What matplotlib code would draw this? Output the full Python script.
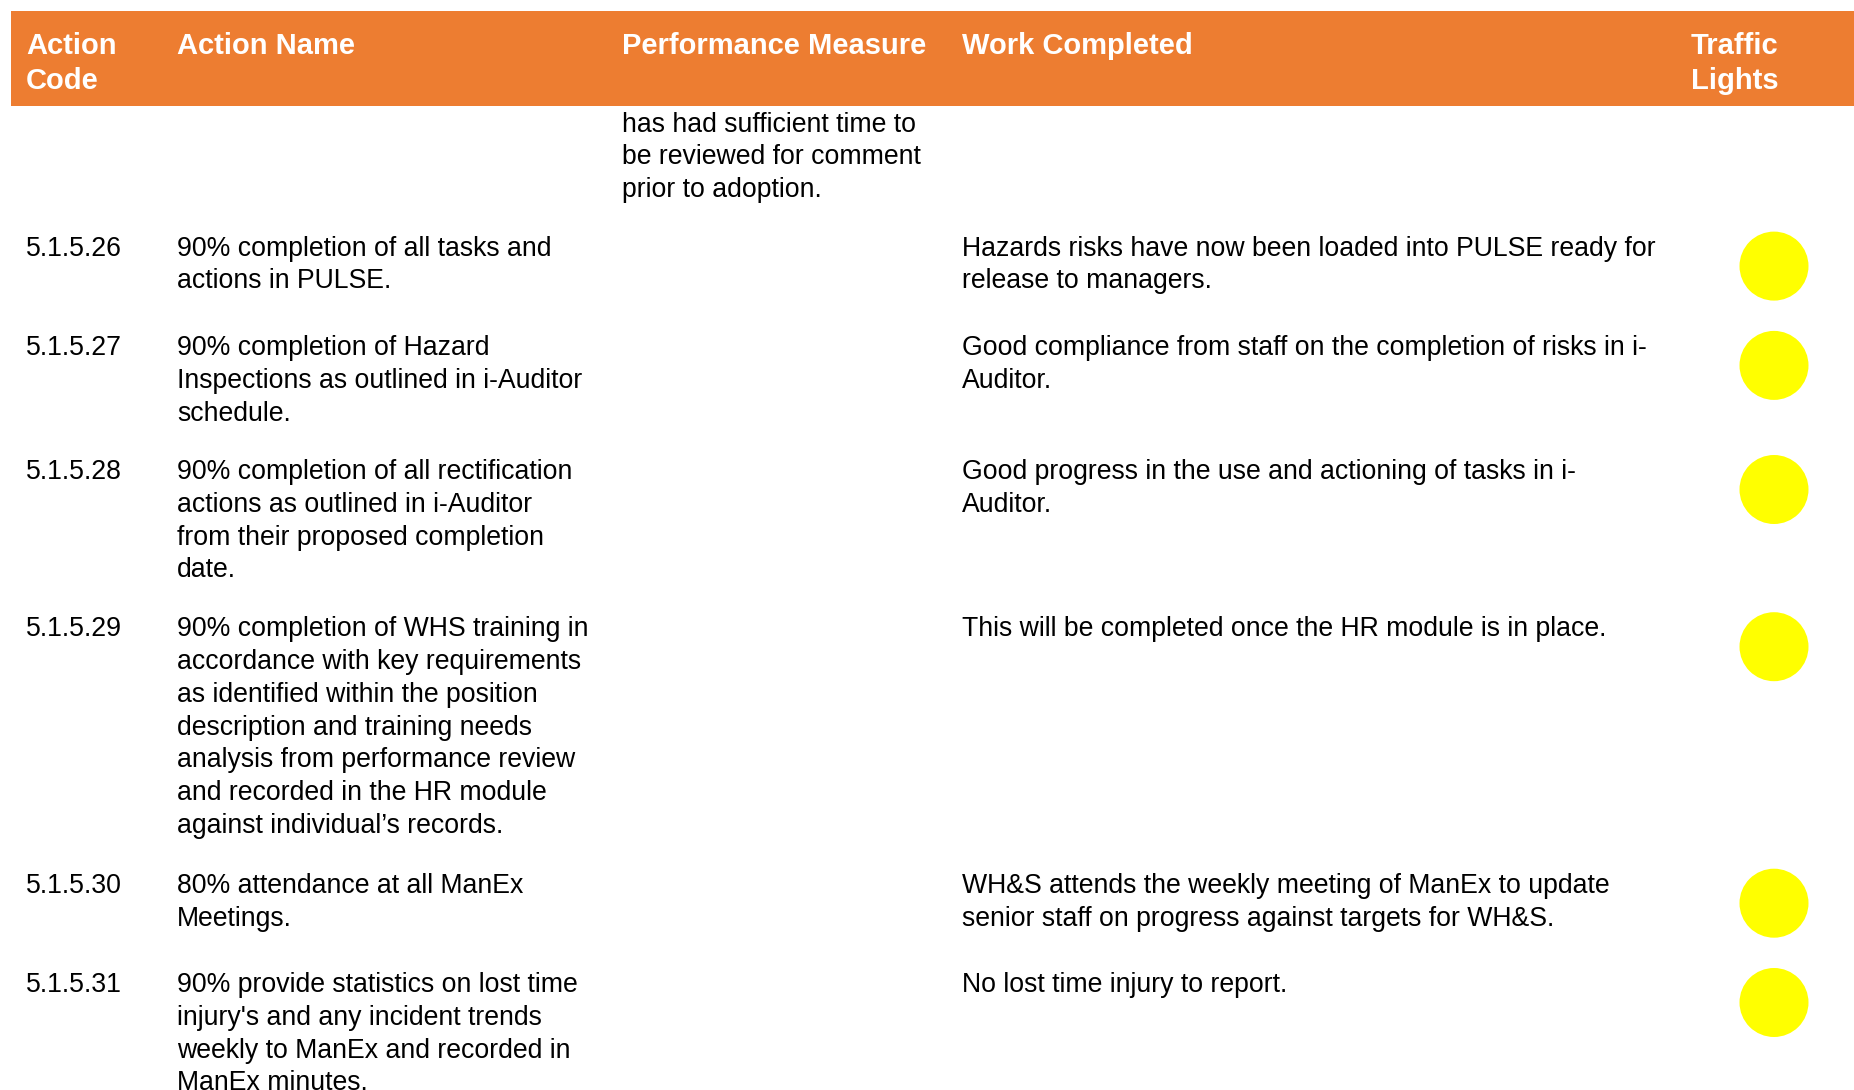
import matplotlib.pyplot as plt
from matplotlib.patches import Rectangle, Circle

plt.rcParams['font.family'] = ['Liberation Sans', 'DejaVu Sans']

W, H = 1854, 1090

headers = ["Action\nCode", "Action Name", "Performance Measure", "Work Completed", "Traffic\nLights"]

codes = ["", "5.1.5.26", "5.1.5.27", "5.1.5.28", "5.1.5.29", "5.1.5.30", "5.1.5.31"]
names = [
    "",
    "90% completion of all tasks and\nactions in PULSE.",
    "90% completion of Hazard\nInspections as outlined in i-Auditor\nschedule.",
    "90% completion of all rectification\nactions as outlined in i-Auditor\nfrom their proposed completion\ndate.",
    "90% completion of WHS training in\naccordance with key requirements\nas identified within the position\ndescription and training needs\nanalysis from performance review\nand recorded in the HR module\nagainst individual\u2019s records.",
    "80% attendance at all ManEx\nMeetings.",
    "90% provide statistics on lost time\ninjury's and any incident trends\nweekly to ManEx and recorded in\nManEx minutes.",
]
measures = [
    "has had sufficient time to\nbe reviewed for comment\nprior to adoption.",
    "", "", "", "", "", "",
]
work = [
    "",
    "Hazards risks have now been loaded into PULSE ready for\nrelease to managers.",
    "Good compliance from staff on the completion of risks in i-\nAuditor.",
    "Good progress in the use and actioning of tasks in i-\nAuditor.",
    "This will be completed once the HR module is in place.",
    "WH&S attends the weekly meeting of ManEx to update\nsenior staff on progress against targets for WH&S.",
    "No lost time injury to report.",
]
lights = [None, "yellow", "yellow", "yellow", "yellow", "yellow", "yellow"]

orange = "#ED7D31"
light_colors = {"yellow": "#FFFF00"}

col_x = [26, 177, 622, 962, 1691]
light_x = 1774
fs = 19.2
hfs = 21
line_h = 33.1
pad = 24.8
min_row = 99.3

fig = plt.figure(figsize=(W / 100, H / 100), dpi=100)
ax = fig.add_axes([0, 0, 1, 1])
ax.set_xlim(0, W)
ax.set_ylim(H, 0)
ax.axis("off")

# header band
ax.add_patch(Rectangle((11, 11), W - 11, 95, color=orange, lw=0))
for x, h in zip(col_x, headers):
    ax.text(x, 32, h, color="white", fontsize=hfs, fontweight="bold",
            va="top", ha="left", linespacing=1.34)

y = 123
for i in range(len(codes)):
    cells = [codes[i], names[i], measures[i], work[i]]
    nlines = max(c.count("\n") + 1 if c else 0 for c in cells)
    for x, c in zip(col_x[:4], cells):
        if c:
            ax.text(x, y - 11.5, c, fontsize=fs, va="top", ha="left",
                    linespacing=1.34, color="black")
    if lights[i]:
        ax.add_patch(Circle((light_x, y + 19), 34.5, color=light_colors[lights[i]], lw=0))
    h = nlines * line_h + pad
    if lights[i]:
        h = max(h, min_row)
    y += h

fig.savefig("out.png", dpi=100)
